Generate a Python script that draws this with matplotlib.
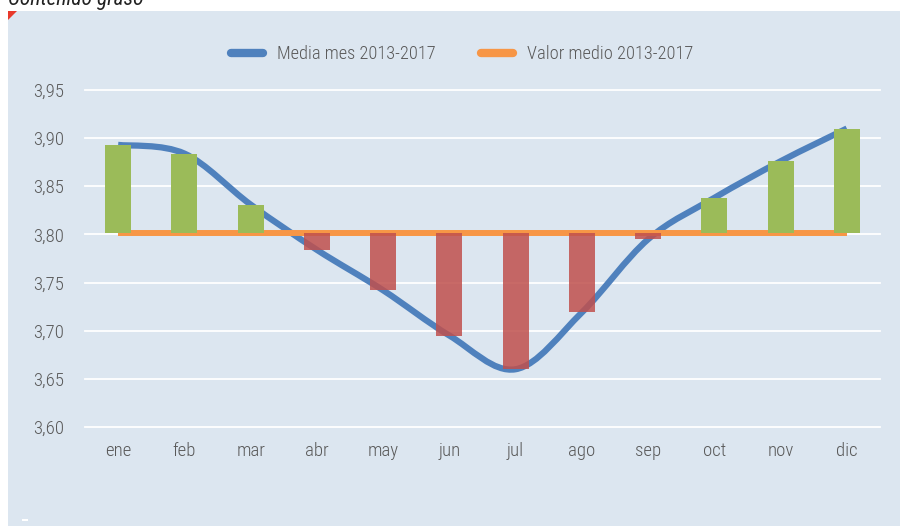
import numpy as np
import matplotlib
matplotlib.use("Agg")
import matplotlib.pyplot as plt
from matplotlib.path import Path
from matplotlib.patches import PathPatch, Rectangle, Polygon
from matplotlib.lines import Line2D
from matplotlib.ticker import FuncFormatter

months = ["ene", "feb", "mar", "abr", "may", "jun", "jul", "ago", "sep", "oct", "nov", "dic"]
monthMean = [3.893, 3.884, 3.831, 3.784, 3.742, 3.695, 3.660, 3.719, 3.795, 3.838, 3.876, 3.910]
overallMean = 3.802
yTicks = [3.60, 3.65, 3.70, 3.75, 3.80, 3.85, 3.90, 3.95]

fontList = ["Roboto Condensed", "Liberation Sans Narrow", "Roboto", "DejaVu Sans"]
plt.rcParams["font.family"] = fontList
plt.rcParams["font.weight"] = "light"
grey = "#595959"
bgColor = "#dce6f0"


def smoothPath(xs, ys):
    # Excel-like smoothed line: cubic Bezier through every point
    pts = np.column_stack([xs, ys])
    verts = [pts[0]]
    codes = [Path.MOVETO]
    n = len(pts)
    for i in range(n - 1):
        p0 = pts[i - 1] if i > 0 else pts[i]
        p1, p2 = pts[i], pts[i + 1]
        p3 = pts[i + 2] if i + 2 < n else pts[i + 1]
        verts += [p1 + (p2 - p0) / 6, p2 - (p3 - p1) / 6, p2]
        codes += [Path.CURVE4] * 3
    return Path(verts, codes)


fig = plt.figure(figsize=(9, 5.26), dpi=100)
fig.patch.set_facecolor("white")
fig.patches.append(Rectangle((8 / 900, 0), 1, 1 - 11 / 526, transform=fig.transFigure,
                             facecolor=bgColor, edgecolor="none", zorder=-5))
fig.patches.append(Polygon([(8 / 900, 1 - 11 / 526), (17 / 900, 1 - 11 / 526), (8 / 900, 1 - 20 / 526)],
                           closed=True, transform=fig.transFigure, facecolor="#e8392b",
                           edgecolor="none", zorder=-4))
fig.text(8 / 900, 1 - 5 / 526, "Contenido graso", fontsize=15.5, style="italic",
         weight="normal", color="#222222", ha="left", va="baseline")
fig.patches.append(Rectangle((22 / 900, 5 / 526), 6 / 900, 2 / 526, transform=fig.transFigure,
                             facecolor="white", edgecolor="none", zorder=-3))

ax = fig.add_axes([85 / 900, (526 - 427) / 526, 795 / 900, 337 / 526])
ax.set_zorder(1)
ax.set_facecolor("none")
x = np.arange(len(months))

ax.add_patch(PathPatch(smoothPath(x, monthMean), facecolor="none", edgecolor="#4f81bd",
                       lw=4.5, capstyle="butt", zorder=2))
ax.plot([x[0], x[-1]], [overallMean, overallMean], color="#f79646", lw=4.3,
        solid_capstyle="butt", zorder=3)

diffs = np.array(monthMean) - overallMean
barColors = ["#9bbb59" if d > 0 else "#c0504d" for d in diffs]
barAlphas = [1.0 if d > 0 else 0.85 for d in diffs]
for xi, d, c, a in zip(x, diffs, barColors, barAlphas):
    ax.bar(xi, d, bottom=overallMean, width=0.39, color=c, alpha=a,
           edgecolor="none", zorder=4)

ax.set_xlim(-0.5, len(months) - 0.5)
ax.set_ylim(3.60, 3.95)
ax.set_yticks(yTicks)
ax.yaxis.set_major_formatter(FuncFormatter(lambda v, p: f"{v:.2f}".replace(".", ",")))
ax.set_xticks(x)
ax.set_xticklabels(months)
ax.grid(axis="y", color="white", lw=1.3, zorder=1)
ax.grid(axis="x", visible=False)
ax.set_axisbelow(True)
for sp in ax.spines.values():
    sp.set_visible(False)
ax.tick_params(axis="both", length=0, labelsize=13.5, labelcolor=grey)
ax.tick_params(axis="y", pad=15)
ax.tick_params(axis="x", pad=11)
for gl in ax.get_ygridlines():
    gl.set_clip_on(False)

handles = [Line2D([], [], color="#4f81bd", lw=6, solid_capstyle="round"),
           Line2D([], [], color="#f79646", lw=6, solid_capstyle="round")]
fig.legend(handles, ["Media mes 2013-2017", "Valor medio 2013-2017"], loc="center",
           bbox_to_anchor=(462 / 900, 1 - 54 / 526), ncol=2, frameon=False,
           fontsize=13.2, labelcolor=grey, handlelength=1.75, handletextpad=0.75,
           columnspacing=2.5)

plt.savefig("out.png", dpi=100)
plt.close()
